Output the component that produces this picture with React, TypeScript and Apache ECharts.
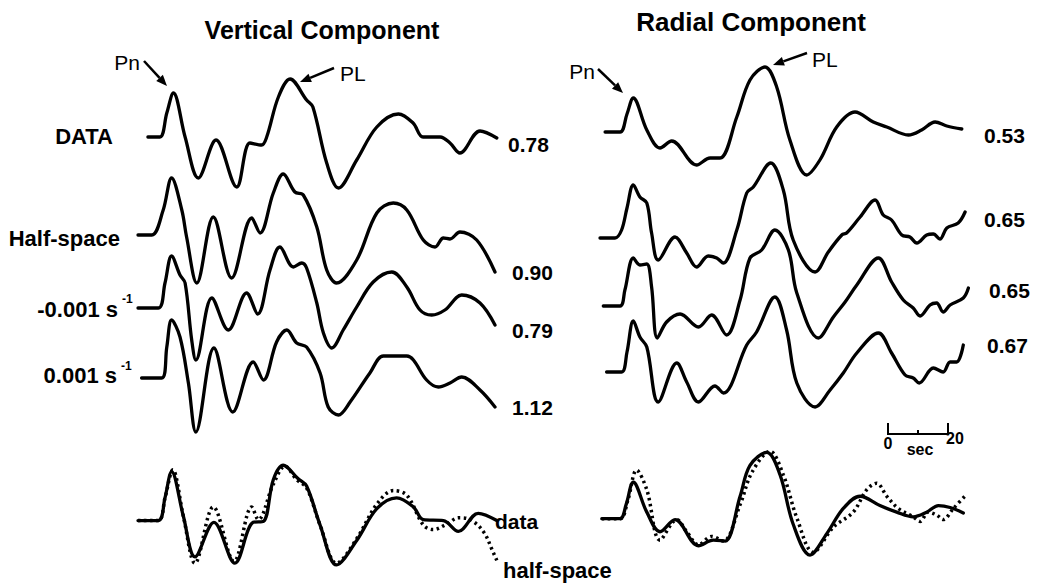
import React, { useEffect, useRef } from "react";
import * as echarts from "echarts";

type Pt = [number, number];

// ---- Data: [time (s), amplitude] ----
// Vertical component
const vData: Pt[] = [[3.3,0],[7.3,0],[9.6,24],[11.8,44],[15.7,0],[20.1,-41],[26,-3],[32.9,-50],[37.3,-6],[41.2,-8],[42.9,0],[46.8,40],[50.7,58],[56.2,37],[58.3,30],[62.9,-26],[66.8,-51],[72.9,-23],[79.6,10],[86.8,23],[91.7,14],[95,0],[100.7,0],[104,-6],[107.3,-16],[114,6],[119.6,-1]];
const vHalf: Pt[] = [[0,0],[4.6,0],[8.4,25],[11.2,57],[14.6,25],[16.2,-2],[19.6,-48],[25.1,18],[31.2,-43],[37.9,17],[40.7,2],[45.1,42],[48.4,61],[52.3,43],[55.1,40],[59.6,8],[62.9,-35],[66.2,-48],[72.9,-25],[79.6,22],[85.1,32],[89.6,25],[95.1,-5],[99,-12],[101.8,-3],[104,-4],[107.3,3],[112.9,-5],[119,-37]];
const vNeg: Pt[] = [[0,0],[6.8,0],[9,25],[11.2,52],[14,33],[15.7,25],[17.9,-32],[19.3,-52],[24.6,10],[30.1,-22],[36.2,15],[39.9,-6],[44,38],[47.3,61],[51.8,41],[54.6,45],[56.2,40],[59.6,5],[61.8,-25],[64.6,-40],[68.4,-22],[72.9,1],[78.4,26],[84.6,36],[89.6,21],[94,-2],[97.9,-7],[102.3,-2],[107.9,13],[114,5],[119,-17]];
const vPos: Pt[] = [[1.2,0],[7.9,0],[9.6,31],[11.2,58],[14,41],[16.8,-5],[19.3,-54],[25.3,30],[31.6,-34],[38.4,16],[41.8,-2],[46.2,36],[49.6,48],[52.9,35],[56.2,31],[60.7,5],[63.4,-29],[66.8,-37],[70.7,-24],[77.3,5],[81.8,22],[89.6,22],[91.8,18],[96.2,-2],[100.1,-9],[104,-5],[107.9,1],[114,-12],[119,-29]];
const vCmpData: Pt[] = [[0,0],[6.8,0],[9,25],[11.2,54],[15.1,5],[19,-40],[25.3,-2],[32.3,-47],[38.4,-2],[41.8,-1],[45.1,45],[48.4,61],[53.4,46],[56.2,38],[60.7,-5],[66.2,-49],[72.9,-22],[79.6,13],[86.2,25],[91.8,15],[95.1,1],[101.8,0],[106.8,-12],[113.4,8],[119.6,0]];
const vCmpHalf: Pt[] = [[0,0],[6.8,0],[9,25],[11.6,56],[15.1,5],[19,-47],[25.1,15],[32,-45],[37.9,15],[40.1,1],[45.1,40],[49,60],[52.9,45],[56.2,36],[60.7,-5],[66.2,-47],[72.9,-20],[79.6,18],[85.1,33],[89.6,28],[95.1,-5],[98.4,-10],[102.9,-4],[106.8,3],[110.7,1],[115.1,-12],[118.4,-35],[119.6,-44]];

// Radial component
const rData: Pt[] = [[1.7,0],[6.7,0],[9,18],[11.1,34],[15.6,2],[20,-16],[23.9,-9],[32.2,-33],[36.7,-26],[40,-26],[45.6,15],[50,52],[55,65],[58.9,45],[63.3,-8],[68.9,-43],[73.3,-28],[78.9,5],[85,20],[91.1,10],[95.6,5],[102.8,-3],[107.2,2],[111.7,10],[115.6,6],[120.6,3]];
const rHalf: Pt[] = [[0,0],[5,0],[7.2,8],[9,30],[11.1,53],[13.3,41],[15.6,35],[17.2,5],[19.4,-22],[25,1],[28.9,-15],[32.2,-29],[36.1,-18],[38.9,-20],[41.1,-25],[45.6,8],[48.9,45],[51.1,51],[56.9,75],[61.1,48],[64.4,-2],[71.7,-34],[76.1,-14],[80.6,3],[82.2,5],[86.7,21],[91.7,38],[94.4,23],[97.2,18],[100.6,3],[103.3,1],[105.6,-5],[108.9,3],[111.1,4],[113.3,-1],[115.6,10],[119.4,15],[121.7,26]];
const rNeg: Pt[] = [[1.1,0],[6.7,0],[8.3,16],[11.1,48],[13.3,41],[15.6,42],[17.2,19],[19.1,-32],[22.2,-16],[26.7,-8],[32.8,-21],[37.2,-9],[42.2,-29],[46.7,6],[50,48],[53.9,56],[58.3,76],[62.8,56],[65.6,13],[72.8,-32],[77.8,-11],[81.7,4],[85.6,21],[92.8,48],[97.2,24],[101.1,6],[104.4,-2],[106.7,-10],[110,1],[112.2,3],[114.4,-6],[116.7,1],[121.1,8],[122.8,18]];
const rPos: Pt[] = [[2.2,0],[7.2,0],[9,20],[11.1,51],[13.3,35],[15.6,25],[19.4,-30],[25.6,9],[28.9,-10],[32.8,-30],[38.3,-14],[41.1,-21],[48.9,27],[52.2,40],[58.3,75],[62.2,42],[65.6,-11],[71.7,-35],[76.7,-18],[81.1,-1],[85.6,19],[92.8,39],[97.2,19],[101.7,-3],[104.4,-6],[106.4,-11],[111.1,4],[114.4,0],[116.7,10],[118.9,10],[121.1,27]];
const rCmpData: Pt[] = [[0.6,0],[6.7,0],[8.7,15],[11.1,39],[15.6,7],[20,-14],[25,-1],[32.8,-29],[37.8,-23],[41.7,-24],[46.7,24],[50,57],[55.6,71],[60,47],[64.4,-6],[70,-39],[75.6,-16],[81.1,11],[86.7,24],[93.3,14],[98.9,7],[104.4,2],[108.9,7],[112.8,14],[116.7,12],[121.1,6]];
const rCmpHalf: Pt[] = [[0.6,0],[6.7,0],[9.3,20],[12.2,52],[15.6,31],[20,-23],[25.6,-1],[28.9,-14],[32.8,-28],[37.2,-19],[41.1,-24],[46.7,15],[50.7,50],[56.7,72],[61.1,47],[65.6,1],[71.1,-36],[77.8,-9],[84.4,7],[88.9,31],[92.2,38],[95.6,24],[99.4,11],[104.4,2],[106.7,-3],[109.4,7],[112.2,4],[114.4,-1],[117.8,11],[122.2,26]];

// Labels
const rowLabels = ["DATA", "Half-space", "-0.001 s", "0.001 s"];
const vFactors = ["0.78", "0.90", "0.79", "1.12"];
const rFactors = ["0.53", "0.65", "0.65", "0.67"];
const scaleTicks = ["0", "20"];

// ---- Layout ----
const PX_PER_SEC = 3;
const T_MAX = 123;
const Y_MAX = 80;
const Y_MIN = -70;
const PANEL_LEFT = { V: 138, R: 600 };

type Trace = { panel: "V" | "R"; base: number; series: { data: Pt[]; dotted?: boolean }[] };
const traces: Trace[] = [
  { panel: "V", base: 137, series: [{ data: vData }] },
  { panel: "V", base: 235, series: [{ data: vHalf }] },
  { panel: "V", base: 308, series: [{ data: vNeg }] },
  { panel: "V", base: 378, series: [{ data: vPos }] },
  { panel: "V", base: 528, series: [{ data: vCmpData }, { data: vCmpHalf, dotted: true }] },
  { panel: "R", base: 132, series: [{ data: rData }] },
  { panel: "R", base: 238, series: [{ data: rHalf }] },
  { panel: "R", base: 306, series: [{ data: rNeg }] },
  { panel: "R", base: 372, series: [{ data: rPos }] },
  { panel: "R", base: 524, series: [{ data: rCmpData }, { data: rCmpHalf, dotted: true }] },
];

const FONT = '"Liberation Sans", Arial, sans-serif';

function txt(text: string, x: number, y: number, size: number, bold: boolean, align = "left", v = "middle") {
  return {
    type: "text",
    style: {
      text, x, y,
      font: `${bold ? "bold " : ""}${size}px ${FONT}`,
      fill: "#000",
      textAlign: align,
      textVerticalAlign: v,
    },
  };
}

function arrow(x1: number, y1: number, x2: number, y2: number) {
  const ang = Math.atan2(y2 - y1, x2 - x1);
  const L = 11, W = 4.5;
  const bx = x2 - L * Math.cos(ang), by = y2 - L * Math.sin(ang);
  const px = -Math.sin(ang) * W, py = Math.cos(ang) * W;
  return [
    { type: "line", shape: { x1, y1, x2: bx, y2: by }, style: { stroke: "#000", lineWidth: 2.5 } },
    { type: "polygon", shape: { points: [[x2, y2], [bx + px, by + py], [bx - px, by - py]] }, style: { fill: "#000" } },
  ];
}

export default function App() {
  const ref = useRef<HTMLDivElement>(null);
  useEffect(() => {
    if (!ref.current) return;
    const chart = echarts.init(ref.current, null, { renderer: "svg" });
    const grid: any[] = [];
    const xAxis: any[] = [];
    const yAxis: any[] = [];
    const series: any[] = [];
    traces.forEach((tr, i) => {
      grid.push({
        left: PANEL_LEFT[tr.panel],
        top: tr.base - Y_MAX,
        width: T_MAX * PX_PER_SEC,
        height: Y_MAX - Y_MIN,
        containLabel: false,
      });
      xAxis.push({ type: "value", gridIndex: i, min: 0, max: T_MAX, show: false });
      yAxis.push({ type: "value", gridIndex: i, min: Y_MIN, max: Y_MAX, show: false });
      tr.series.forEach((s) => {
        series.push({
          type: "line",
          xAxisIndex: i,
          yAxisIndex: i,
          data: s.data,
          smooth: 0.35,
          symbol: "none",
          clip: false,
          z: s.dotted ? 3 : 2,
          lineStyle: s.dotted
            ? { color: "#000", width: 3.5, type: [2.5, 3.5], cap: "butt" }
            : { color: "#000", width: 3.3, cap: "round", join: "round" },
        });
      });
    });

    const rowY = [136, 238, 309, 375];
    const rowRight = [113, 120, 118, 117];
    const graphic: any[] = [
      txt("Vertical Component", 322, 30, 25, true, "center"),
      txt("Radial Component", 751, 22, 26, true, "center"),
      ...rowLabels.map((l, i) => txt(l, rowRight[i], rowY[i], 22, true, "right")),
      txt("-1", 122, 299, 12, true, "left"),
      txt("-1", 121, 366, 12, true, "left"),
      ...vFactors.map((f, i) => txt(f, [508, 512, 512, 512][i], [144, 272, 330, 407][i], 21, true)),
      ...rFactors.map((f, i) => txt(f, [984, 984, 989, 987][i], [135, 219, 290, 345][i], 21, true)),
      txt("Pn", 140, 62, 21, false, "right"),
      txt("PL", 340, 73, 21, false, "left"),
      txt("Pn", 595, 71, 21, false, "right"),
      txt("PL", 812, 59, 21, false, "left"),
      ...arrow(144, 61, 167, 86),
      ...arrow(334, 68, 300, 82),
      ...arrow(598, 69, 623, 93),
      ...arrow(807, 53, 773, 65),
      // scale bar (20 s)
      { type: "line", shape: { x1: 888, y1: 434, x2: 888 + 20 * PX_PER_SEC, y2: 434 }, style: { stroke: "#000", lineWidth: 2 } },
      { type: "line", shape: { x1: 888, y1: 423, x2: 888, y2: 435 }, style: { stroke: "#000", lineWidth: 2 } },
      { type: "line", shape: { x1: 888 + 20 * PX_PER_SEC, y1: 423, x2: 888 + 20 * PX_PER_SEC, y2: 435 }, style: { stroke: "#000", lineWidth: 2 } },
      { type: "line", shape: { x1: 888 + 10 * PX_PER_SEC, y1: 430, x2: 888 + 10 * PX_PER_SEC, y2: 434 }, style: { stroke: "#000", lineWidth: 2 } },
      txt(scaleTicks[0], 888, 443, 16, true, "center"),
      txt("sec", 920, 449, 16, true, "center"),
      txt(scaleTicks[1], 955, 438, 16, true, "center"),
      txt("data", 495, 521, 21, true, "left"),
      txt("half-space", 503, 570, 22, true, "left"),
    ];

    chart.setOption({
      animation: false,
      backgroundColor: "#fff",
      grid,
      xAxis,
      yAxis,
      series,
      graphic,
    });
    return () => chart.dispose();
  }, []);
  return (
    <div
      ref={ref}
      style={{ position: "fixed", left: 0, top: 0, width: 1037, height: 584, background: "#fff" }}
    />
  );
}
